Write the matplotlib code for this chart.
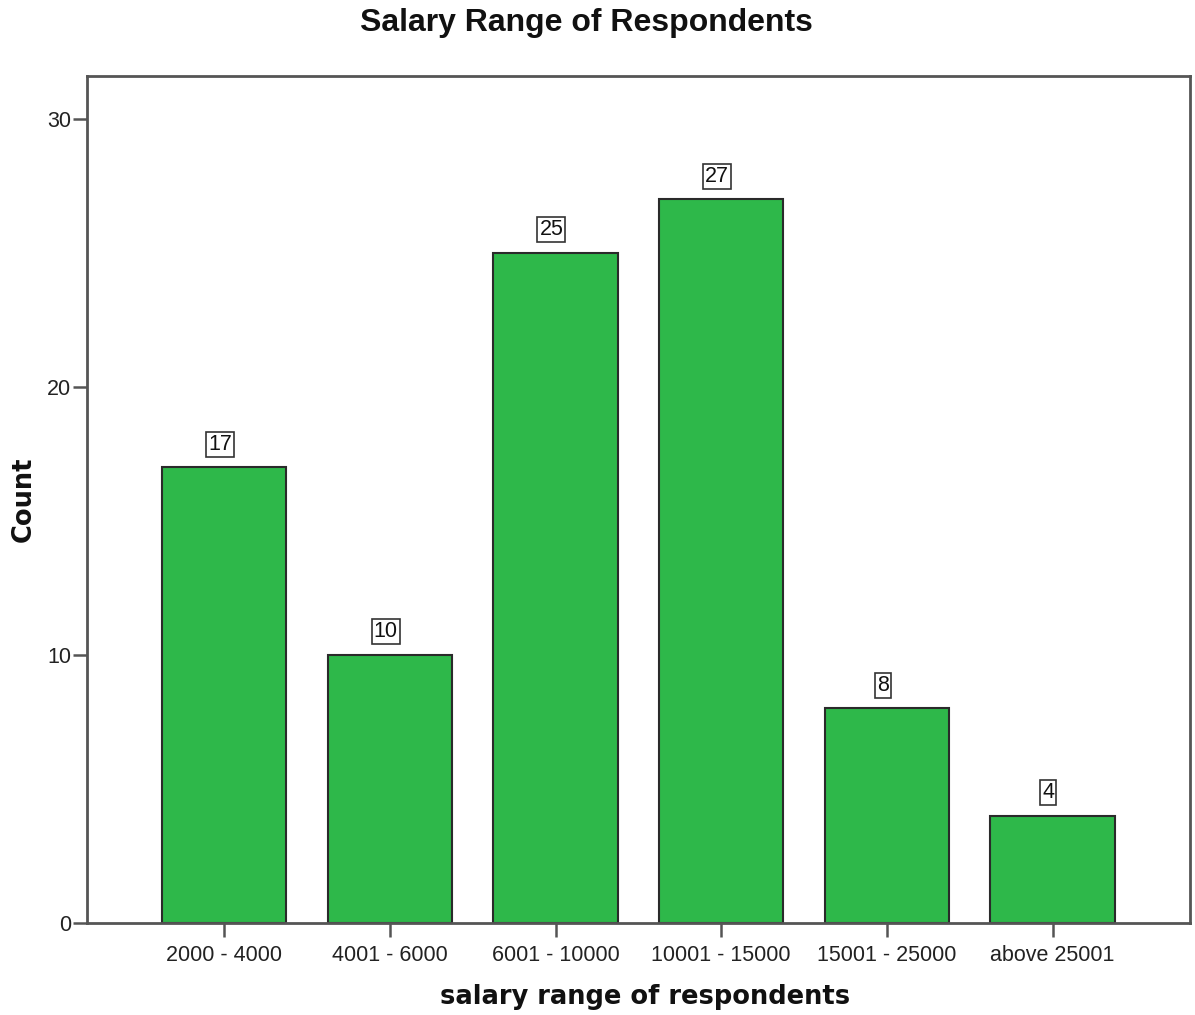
import matplotlib
matplotlib.use("Agg")
import matplotlib.pyplot as plt

# salary bands and respondent counts
categories = ["2000 - 4000", "4001 - 6000", "6001 - 10000",
              "10001 - 15000", "15001 - 25000", "above 25001"]
counts = [17, 10, 25, 27, 8, 4]
yticks = [0, 10, 20, 30]

bar_color = "#2eb84a"
frame_color = "#555555"

fig = plt.figure(figsize=(11.95, 10.15), dpi=100)
ax = fig.add_axes([86.7 / 1195, 1 - 922.7 / 1015, (1190 - 86.7) / 1195, (922.7 - 76) / 1015])

x = list(range(len(categories)))
bars = ax.bar(x, counts, width=0.75, color=bar_color, edgecolor="#2a2a2a", linewidth=1.5, zorder=2)

# value labels in small boxes above each bar
for rect, val in zip(bars, counts):
    ax.annotate(str(val), (rect.get_x() + rect.get_width() / 2, rect.get_height()),
                xytext=(-3, 9), textcoords="offset points", ha="center", va="bottom",
                fontsize=15.5, family="Liberation Sans", color="#111111",
                bbox=dict(boxstyle="square,pad=0.1", fc="white", ec="#333333", lw=1.2))

ax.set_xlim(-0.83, 5.83)
ax.set_ylim(0, 31.6)
ax.set_xticks(x)
ax.set_xticklabels(categories, family="Liberation Sans", fontsize=15.5, color="#222222")
ax.set_yticks(yticks)
ax.set_yticklabels([str(t) for t in yticks], family="Liberation Sans", fontsize=15.5, color="#222222")
ax.tick_params(axis="both", length=10, width=1.8, color=frame_color, direction="out")
ax.tick_params(axis="y", pad=1)
ax.tick_params(axis="x", pad=6)

for sp in ax.spines.values():
    sp.set_color(frame_color)
    sp.set_linewidth(2)

# axis titles
fig.text(645 / 1195, 1 - 997 / 1015, "salary range of respondents", ha="center", va="center",
         family="DejaVu Sans", fontweight="bold", fontsize=18.5, color="#111111")
fig.text(24 / 1195, 1 - 499 / 1015, "Count", ha="center", va="center", rotation=90,
         family="DejaVu Sans", fontweight="bold", fontsize=18.5, color="#111111")

fig.text(586 / 1195, 1 - 23 / 1015, "Salary Range of Respondents", ha="center", va="center",
         family="Liberation Sans", fontweight="bold", fontsize=23, color="#111111")

fig.savefig("out.png", dpi=100, facecolor="white")
